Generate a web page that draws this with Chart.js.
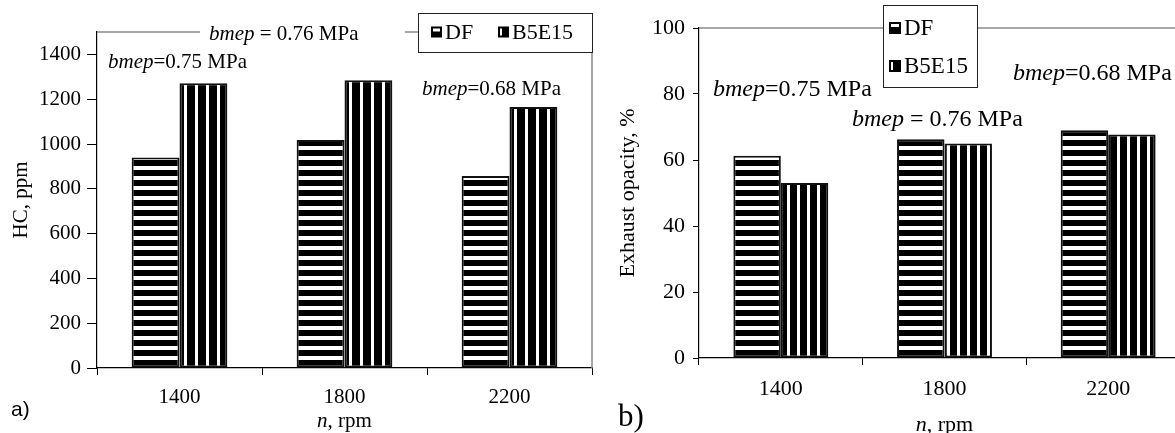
<!DOCTYPE html>
<html><head><meta charset="utf-8">
<script src="https://cdn.jsdelivr.net/npm/chart.js@4.4.1/dist/chart.umd.min.js"></script>
<style>
html,body{margin:0;padding:0;background:#fff;overflow:hidden;width:1175px;height:433px;position:relative;}
#a{position:absolute;left:0;top:0;width:600px;height:433px;}
#b{position:absolute;left:590px;top:0;width:610px;height:433px;}
</style></head><body>
<div id="a"><canvas id="ca"></canvas></div>
<div id="b"><canvas id="cb"></canvas></div>
<script>
// ---------- data ----------
const categories = ['1400', '1800', '2200'];
const seriesNames = ['DF', 'B5E15'];
const hcDF = [940, 1018, 857];
const hcB5E15 = [1271, 1285, 1165];
const opacityDF = [61.3, 66.3, 69.0];
const opacityB5E15 = [53.0, 65.0, 67.7];
const hcTicks = [0, 200, 400, 600, 800, 1000, 1200, 1400];
const opacityTicks = [0, 20, 40, 60, 80, 100];
const hcTitle = 'HC, ppm';
const opacityTitle = 'Exhaust opacity, %';
const xTitleItalic = 'n';
const xTitleRest = ', rpm';
const notePrefix = 'bmep';
const hcNotes = ['=0.75 MPa', ' = 0.76 MPa', '=0.68 MPa'];
const opacityNotes = ['=0.75 MPa', ' = 0.76 MPa', '=0.68 MPa'];
const panelLabels = ['a)', 'b)'];

const SERIF = '"Liberation Serif","Times New Roman",serif';
const SANS = '"Liberation Sans",Arial,sans-serif';

function stripePattern(ctx, horizontal, period, dark) {
  const c = document.createElement('canvas');
  c.width = horizontal ? 8 : period;
  c.height = horizontal ? period : 8;
  const g = c.getContext('2d');
  g.fillStyle = '#fff'; g.fillRect(0, 0, c.width, c.height);
  g.fillStyle = '#000';
  if (horizontal) g.fillRect(0, 0, c.width, dark); else g.fillRect(0, 0, dark, c.height);
  return ctx.createPattern(c, 'repeat');
}

function drawNote(ctx, x, cy, rest, size) {
  ctx.textBaseline = 'middle';
  ctx.textAlign = 'left';
  ctx.fillStyle = '#000';
  ctx.font = 'italic ' + size + 'px ' + SERIF;
  ctx.fillText(notePrefix, x, cy);
  const w = ctx.measureText(notePrefix).width;
  ctx.font = size + 'px ' + SERIF;
  ctx.fillText(rest, x + w, cy);
}

function drawIcon(ctx, x, y, s, kind) {
  ctx.fillStyle = '#000';
  ctx.fillRect(x, y, s, s);
  ctx.fillStyle = '#fff';
  if (kind === 0) {
    ctx.fillRect(x + 2, y + 2, s - 4, 3);
  } else {
    ctx.fillRect(x + 2, y + 2, 2, s - 4);
  }
}

const decor = {
  id: 'decor',
  afterDraw(chart, args, o) {
    const ctx = chart.ctx, a = chart.chartArea;
    ctx.save();
    // light frame (top & right)
    ctx.strokeStyle = '#8a8a8a'; ctx.lineWidth = 1.5;
    ctx.beginPath(); ctx.moveTo(a.left, a.top); ctx.lineTo(a.right, a.top); ctx.lineTo(a.right, a.bottom); ctx.stroke();
    // masks
    ctx.fillStyle = '#fff';
    (o.masks || []).forEach(m => ctx.fillRect(m[0], m[1], m[2], m[3]));
    // notes
    o.notes.forEach((n, i) => drawNote(ctx, o.notePos[i][0], o.notePos[i][1], n, o.noteSize));
    // legend
    const L = o.legend;
    ctx.fillStyle = '#fff'; ctx.fillRect(L.x, L.y, L.w, L.h);
    ctx.strokeStyle = '#222'; ctx.lineWidth = 1;
    ctx.strokeRect(L.x + 0.5, L.y + 0.5, L.w, L.h);
    chart.data.datasets.forEach((ds, i) => {
      const p = L.items[i];
      drawIcon(ctx, p[0], p[1] - L.icon / 2, L.icon, i);
      ctx.fillStyle = '#000'; ctx.font = L.size + 'px ' + SERIF;
      ctx.textBaseline = 'middle'; ctx.textAlign = 'left';
      ctx.fillText(ds.label, p[0] + L.icon + 3, p[1] + 1);
    });
    // x title
    ctx.fillStyle = '#000'; ctx.textBaseline = 'middle'; ctx.textAlign = 'left';
    ctx.font = 'italic ' + o.xSize + 'px ' + SERIF;
    const w1 = ctx.measureText(xTitleItalic).width;
    ctx.font = o.xSize + 'px ' + SERIF;
    const w2 = ctx.measureText(xTitleRest).width;
    const cx = (a.left + a.right) / 2 - (w1 + w2) / 2;
    ctx.font = 'italic ' + o.xSize + 'px ' + SERIF;
    ctx.fillText(xTitleItalic, cx, o.xTitleY);
    ctx.font = o.xSize + 'px ' + SERIF;
    ctx.fillText(xTitleRest, cx + w1, o.xTitleY);
    // panel letter
    ctx.font = o.panelFont;
    ctx.fillText(o.panel, o.panelPos[0], o.panelPos[1]);
    ctx.restore();
  }
};

function makeChart(canvasId, cfg) {
  const canvas = document.getElementById(canvasId);
  const ctx = canvas.getContext('2d');
  const patH = stripePattern(ctx, true, 10, 6);
  const patV = stripePattern(ctx, false, cfg.vPeriod, cfg.vDark);
  return new Chart(canvas, {
    type: 'bar',
    data: {
      labels: categories,
      datasets: [
        { label: seriesNames[0], data: cfg.s1, backgroundColor: patH, borderColor: '#111', borderWidth: 2, borderSkipped: false, categoryPercentage: 0.58, barPercentage: 1.0 },
        { label: seriesNames[1], data: cfg.s2, backgroundColor: patV, borderColor: '#111', borderWidth: 2, borderSkipped: false, categoryPercentage: 0.58, barPercentage: 1.0 }
      ]
    },
    options: {
      responsive: true, maintainAspectRatio: false, animation: false,
      layout: { padding: { top: cfg.padTop, right: cfg.padRight, left: 0, bottom: 0 } },
      plugins: { legend: { display: false }, tooltip: { enabled: false }, decor: cfg.decor },
      scales: {
        x: {
          grid: { drawOnChartArea: false, drawTicks: true, tickLength: 7, color: '#000', lineWidth: 1, offset: true },
          border: { color: '#000', width: 1.2 },
          ticks: { font: { family: SERIF, size: cfg.tickSize }, color: '#000', padding: cfg.xPad, maxRotation: 0 },
          afterFit(s) { s.height = cfg.xHeight; }
        },
        y: {
          min: 0, max: cfg.yMax,
          afterBuildTicks(s) { s.ticks = cfg.ticks.map(v => ({ value: v })); },
          grid: { drawOnChartArea: false, drawTicks: true, tickLength: cfg.yTick, color: '#000', lineWidth: 1 },
          border: { color: '#000', width: 1.2 },
          ticks: { font: { family: SERIF, size: cfg.tickSize }, color: '#000', padding: cfg.yPad, callback: v => String(v) },
          title: { display: true, text: cfg.yTitle, color: '#000', font: { family: SERIF, size: cfg.titleSize }, padding: { top: cfg.yTitlePad, bottom: 0 } },
          afterFit(s) { s.width = cfg.yWidth; }
        }
      }
    },
    plugins: [decor]
  });
}

makeChart('ca', {
  s1: hcDF, s2: hcB5E15, ticks: hcTicks, yMax: 1500, yTitle: hcTitle,
  vPeriod: 11, vDark: 8,
  padTop: 32, padRight: 8, xHeight: 65, yWidth: 97,
  tickSize: 21, titleSize: 21, xPad: 10, yPad: 6, yTick: 10, yTitlePad: 9,
  decor: {
    masks: [[200, 20, 205, 26]],
    notes: hcNotes, notePos: [[108, 62], [209, 34], [422, 89]], noteSize: 21,
    legend: { x: 418, y: 13, w: 174, h: 39, icon: 11, size: 22, items: [[431, 32], [498, 32]] },
    xSize: 21, xTitleY: 421,
    panel: panelLabels[0], panelFont: '21px ' + SANS, panelPos: [11, 410]
  }
});

makeChart('cb', {
  s1: opacityDF, s2: opacityB5E15, ticks: opacityTicks, yMax: 100, yTitle: opacityTitle,
  vPeriod: 10, vDark: 7,
  padTop: 28, padRight: 10, xHeight: 75, yWidth: 109,
  tickSize: 22, titleSize: 22, xPad: 11, yPad: 8, yTick: 6, yTitlePad: 25,
  decor: {
    masks: [],
    notes: opacityNotes, notePos: [[713 - 590, 90], [852 - 590, 120], [1013 - 590, 74]], noteSize: 24,
    legend: { x: 883 - 590, y: 5, w: 94, h: 82, icon: 12, size: 23, items: [[889 - 590, 28], [889 - 590, 66]] },
    xSize: 22, xTitleY: 425,
    panel: panelLabels[1], panelFont: '31px ' + SERIF, panelPos: [618 - 590, 418]
  }
});
</script>
</body></html>
